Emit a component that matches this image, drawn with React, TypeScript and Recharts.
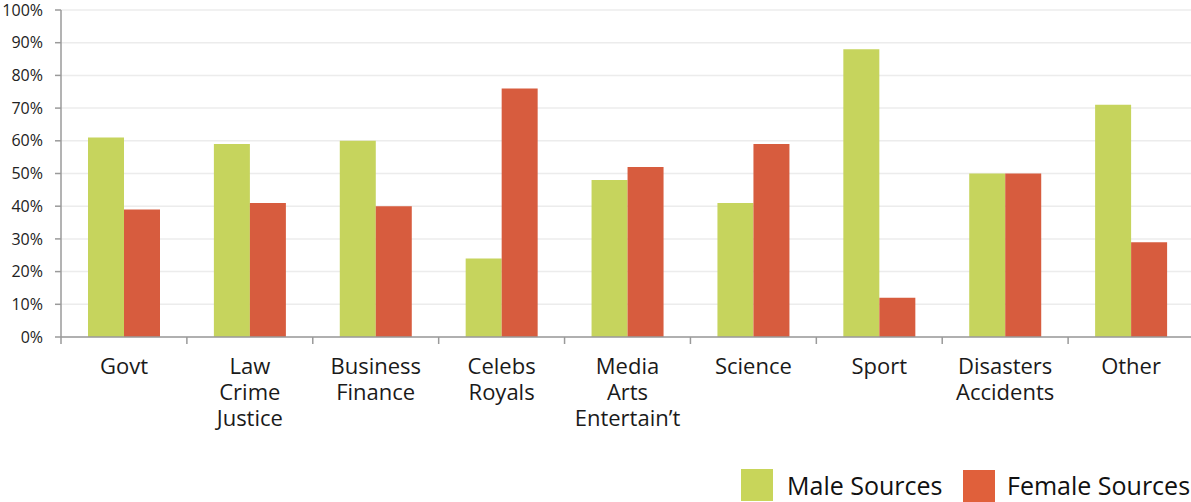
import React from 'react';
import { BarChart, Bar, XAxis, YAxis, CartesianGrid } from 'recharts';

const categories: string[] = [
  'Govt',
  'Law\nCrime\nJustice',
  'Business\nFinance',
  'Celebs\nRoyals',
  'Media\nArts\nEntertain\u2019t',
  'Science',
  'Sport',
  'Disasters\nAccidents',
  'Other',
];
const maleSources: number[] = [61, 59, 60, 24, 48, 41, 88, 50, 71];
const femaleSources: number[] = [39, 41, 40, 76, 52, 59, 12, 50, 29];
const yTicks: number[] = [0, 10, 20, 30, 40, 50, 60, 70, 80, 90, 100];

const data = categories.map((c, i) => ({
  name: c,
  male: maleSources[i],
  female: femaleSources[i],
}));

const W = 1191;
const H = 502;
const LEFT = 61;
const RIGHT = -3;
const PLOT_W = W - LEFT - RIGHT;
const BAND = PLOT_W / categories.length;
const FONT = '"Open Sans", sans-serif';
const MALE = '#C6D45D';
const FEMALE = '#D75C3E';
const AXIS = '#9a9a9a';

const XTick = (props: any) => {
  const { x, y, payload } = props;
  const lines = String(payload.value).split('\n');
  return (
    <g>
      <line x1={x - BAND / 2} x2={x - BAND / 2} y1={y} y2={y + 7} stroke={AXIS} strokeWidth={1.5} />
      {lines.map((l, i) => (
        <text key={i} x={x} y={y + 37 + i * 26} textAnchor="middle" fill="#1a1a1a" fontSize={22} fontFamily={FONT}>
          {l}
        </text>
      ))}
    </g>
  );
};

const App = () => {
  return (
    <div style={{ position: 'absolute', left: 0, top: 0, width: W, height: H, overflow: 'hidden', background: '#fff' }}>
      <BarChart
        width={W}
        height={H}
        data={data}
        margin={{ top: 10, right: RIGHT, bottom: 65, left: 0 }}
        barCategoryGap={27}
        barGap={0}
      >
        <CartesianGrid vertical={false} stroke="#ececec" strokeWidth={1.5} />
        <XAxis
          dataKey="name"
          height={100}
          interval={0}
          tick={<XTick />}
          tickLine={false}
          tickSize={0}
          tickMargin={0}
          axisLine={{ stroke: AXIS, strokeWidth: 1.5 }}
        />
        <YAxis
          width={LEFT}
          domain={[0, 100]}
          ticks={yTicks}
          interval={0}
          tickFormatter={(v: number) => `${v}%`}
          tickSize={6}
          tickMargin={12}
          tick={{ fill: '#222', fontSize: 16, fontFamily: FONT }}
          tickLine={{ stroke: AXIS, strokeWidth: 1.5 }}
          axisLine={{ stroke: AXIS, strokeWidth: 1.5 }}
        />
        <Bar dataKey="male" fill={MALE} isAnimationActive={false} />
        <Bar dataKey="female" fill={FEMALE} isAnimationActive={false} />
      </BarChart>
      <div style={{ position: 'absolute', left: 741, top: 469, width: 32, height: 32, background: '#C8D55A' }} />
      <div style={{ position: 'absolute', left: 787, top: 468, fontFamily: FONT, fontSize: 25, lineHeight: '34px', color: '#111', whiteSpace: 'nowrap' }}>
        Male Sources
      </div>
      <div style={{ position: 'absolute', left: 963, top: 470, width: 32, height: 32, background: '#E0603B' }} />
      <div style={{ position: 'absolute', left: 1007, top: 468, fontFamily: FONT, fontSize: 25, lineHeight: '34px', color: '#111', whiteSpace: 'nowrap' }}>
        Female Sources
      </div>
    </div>
  );
};

export default App;
